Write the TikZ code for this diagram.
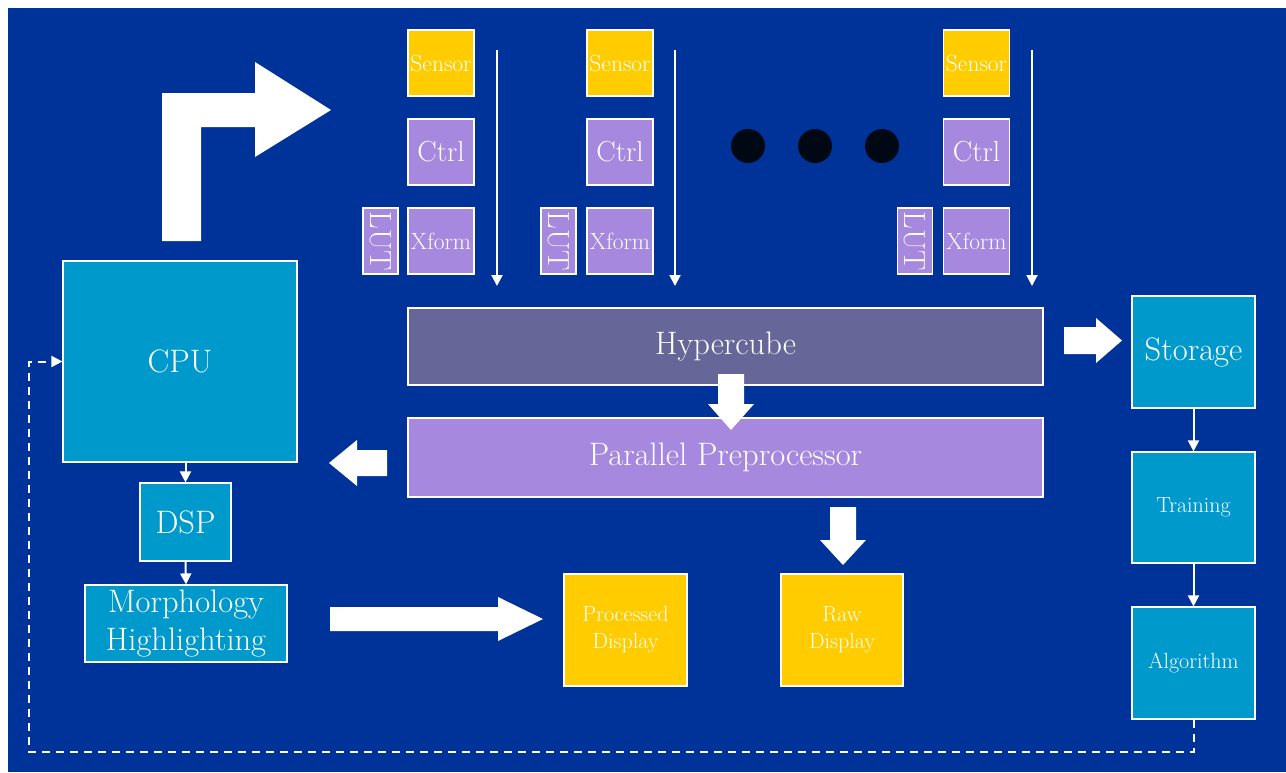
\documentclass[tikz,border=0pt]{standalone}
\usepackage{fontspec}
\usetikzlibrary{arrows.meta}
\definecolor{bgblue}{RGB}{0,51,153}
\definecolor{cyanbox}{RGB}{0,153,204}
\definecolor{purplebox}{RGB}{166,136,222}
\definecolor{hyperbox}{RGB}{102,102,153}
\definecolor{yellowbox}{RGB}{255,204,0}
\definecolor{dotcol}{RGB}{0,8,20}
\begin{document}
\begin{tikzpicture}[x=1pt,y=-1pt,
  box/.style={draw=white, line width=1.2pt, inner sep=0pt, align=center, text=white},
  big/.style={font=\fontsize{32.5}{38}\selectfont},
  small/.style={font=\fontsize{22}{27}\selectfont},
  tiny/.style={font=\fontsize{23.5}{27}\selectfont},
  sensorbox/.style={box, tiny, fill=yellowbox, minimum width=66, minimum height=66},
  ctrlbox/.style={box, font=\fontsize{29}{34}\selectfont, fill=purplebox, minimum width=66, minimum height=66},
  xformbox/.style={box, tiny, fill=purplebox, minimum width=66, minimum height=66},
  lutbox/.style={box, fill=purplebox, minimum width=35, minimum height=66},
  luttext/.style={text=white, inner sep=0pt, rotate=-90, font=\fontsize{30.5}{34}\selectfont},
  cyan/.style={box, fill=cyanbox},
  thinarrow/.style={draw=white, line width=2pt, -{Triangle[width=11pt,length=11pt]}},
  dashline/.style={draw=white, line width=2pt, dash pattern=on 8pt off 6pt, -{Triangle[width=11pt,length=11pt]}},
  blockarrow/.style={fill=white, draw=none},
  dot/.style={fill=dotcol, draw=none}
]
\useasboundingbox (0,0) rectangle (1286,772);
\fill[white] (0,0) rectangle (1286,772);
\fill[bgblue] (8,8) rectangle (1286,772);

% sensor columns
\node[sensorbox] (sen1) at (441,63) {Sensor};
\node[ctrlbox] (ctl1) at (441,152) {Ctrl};
\node[xformbox] (xf1) at (441,241) {Xform};
\node[lutbox] (lut1) at (380.5,241) {};
\node[luttext] at (lut1.center) {LUT};

\node[sensorbox] (sen2) at (620,63) {Sensor};
\node[ctrlbox] (ctl2) at (620,152) {Ctrl};
\node[xformbox] (xf2) at (620,241) {Xform};
\node[lutbox] (lut2) at (558.5,241) {};
\node[luttext] at (lut2.center) {LUT};

\node[sensorbox] (sen3) at (976.5,63) {Sensor};
\node[ctrlbox] (ctl3) at (976.5,152) {Ctrl};
\node[xformbox] (xf3) at (976.5,241) {Xform};
\node[lutbox] (lut3) at (915,241) {};
\node[luttext] at (lut3.center) {LUT};

% dots
\fill[dot] (748,146) circle (17);
\fill[dot] (815,146) circle (17);
\fill[dot] (882,146) circle (17);

% thin column arrows
\coordinate (a1s) at (497,50); \coordinate (a1e) at (497,286);
\coordinate (a2s) at (675,50); \coordinate (a2e) at (675,286);
\coordinate (a3s) at (1032,50); \coordinate (a3e) at (1032,286);
\draw[thinarrow] (a1s) -- (a1e);
\draw[thinarrow] (a2s) -- (a2e);
\draw[thinarrow] (a3s) -- (a3e);

% main bars
\node[box, big, fill=hyperbox, minimum width=635, minimum height=77] (hyp) at (725.5,346.5) {Hypercube};
\node[box, big, fill=purplebox, minimum width=635, minimum height=79] (pp) at (725.5,457.5) {Parallel Preprocessor};

% left column
\node[cyan, big, minimum width=234, minimum height=201] (cpu) at (180,361.5) {CPU};
\node[cyan, big, minimum width=91, minimum height=78] (dsp) at (185.5,522) {DSP};
\node[cyan, big, minimum width=202, minimum height=77] (morph) at (186,623.5) {Morphology\\Highlighting};

% displays
\node[box, small, fill=yellowbox, minimum width=123, minimum height=112] (proc) at (625.5,630) {Processed\\Display};
\node[box, small, fill=yellowbox, minimum width=122, minimum height=112] (raw) at (842,630) {Raw\\Display};

% right column
\node[cyan, big, minimum width=123, minimum height=112] (sto) at (1193.5,352) {Storage};
\node[cyan, small, minimum width=123, minimum height=111] (tra) at (1193.5,507.5) {Training};
\node[cyan, small, minimum width=123, minimum height=112] (alg) at (1193.5,663) {Algorithm};

% thin connectors
\draw[thinarrow] (dsp.north |- cpu.south) -- (dsp.north);
\draw[thinarrow] (dsp.south) -- (morph.north);
\draw[thinarrow] (sto.south) -- (tra.north);
\draw[thinarrow] (tra.south) -- (alg.north);

% dashed feedback
\coordinate (d1) at (1193.5,752);
\coordinate (d2) at (29,752);
\coordinate (d3) at (29,361.5);
\draw[dashline] (alg.south) -- (d1) -- (d2) -- (d3) -- (cpu.west);

% block arrows
\fill[blockarrow] (162,241) -- (162,93) -- (255,93) -- (255,62) -- (331,110) -- (255,157) -- (255,127) -- (201,127) -- (201,241) -- cycle;
\fill[blockarrow] (718,374) -- (744,374) -- (744,404) -- (754,404) -- (731,430) -- (708,404) -- (718,404) -- cycle;
\fill[blockarrow] (387,450) -- (357,450) -- (357,440) -- (329,463) -- (357,486) -- (357,476) -- (387,476) -- cycle;
\fill[blockarrow] (1064,327) -- (1096,327) -- (1096,318) -- (1122,340.5) -- (1096,363) -- (1096,354) -- (1064,354) -- cycle;
\fill[blockarrow] (830,507) -- (856,507) -- (856,540) -- (866,540) -- (843,565) -- (820,540) -- (830,540) -- cycle;
\fill[blockarrow] (330,607) -- (498,607) -- (498,597) -- (543,619) -- (498,641) -- (498,631) -- (330,631) -- cycle;
\end{tikzpicture}
\end{document}
